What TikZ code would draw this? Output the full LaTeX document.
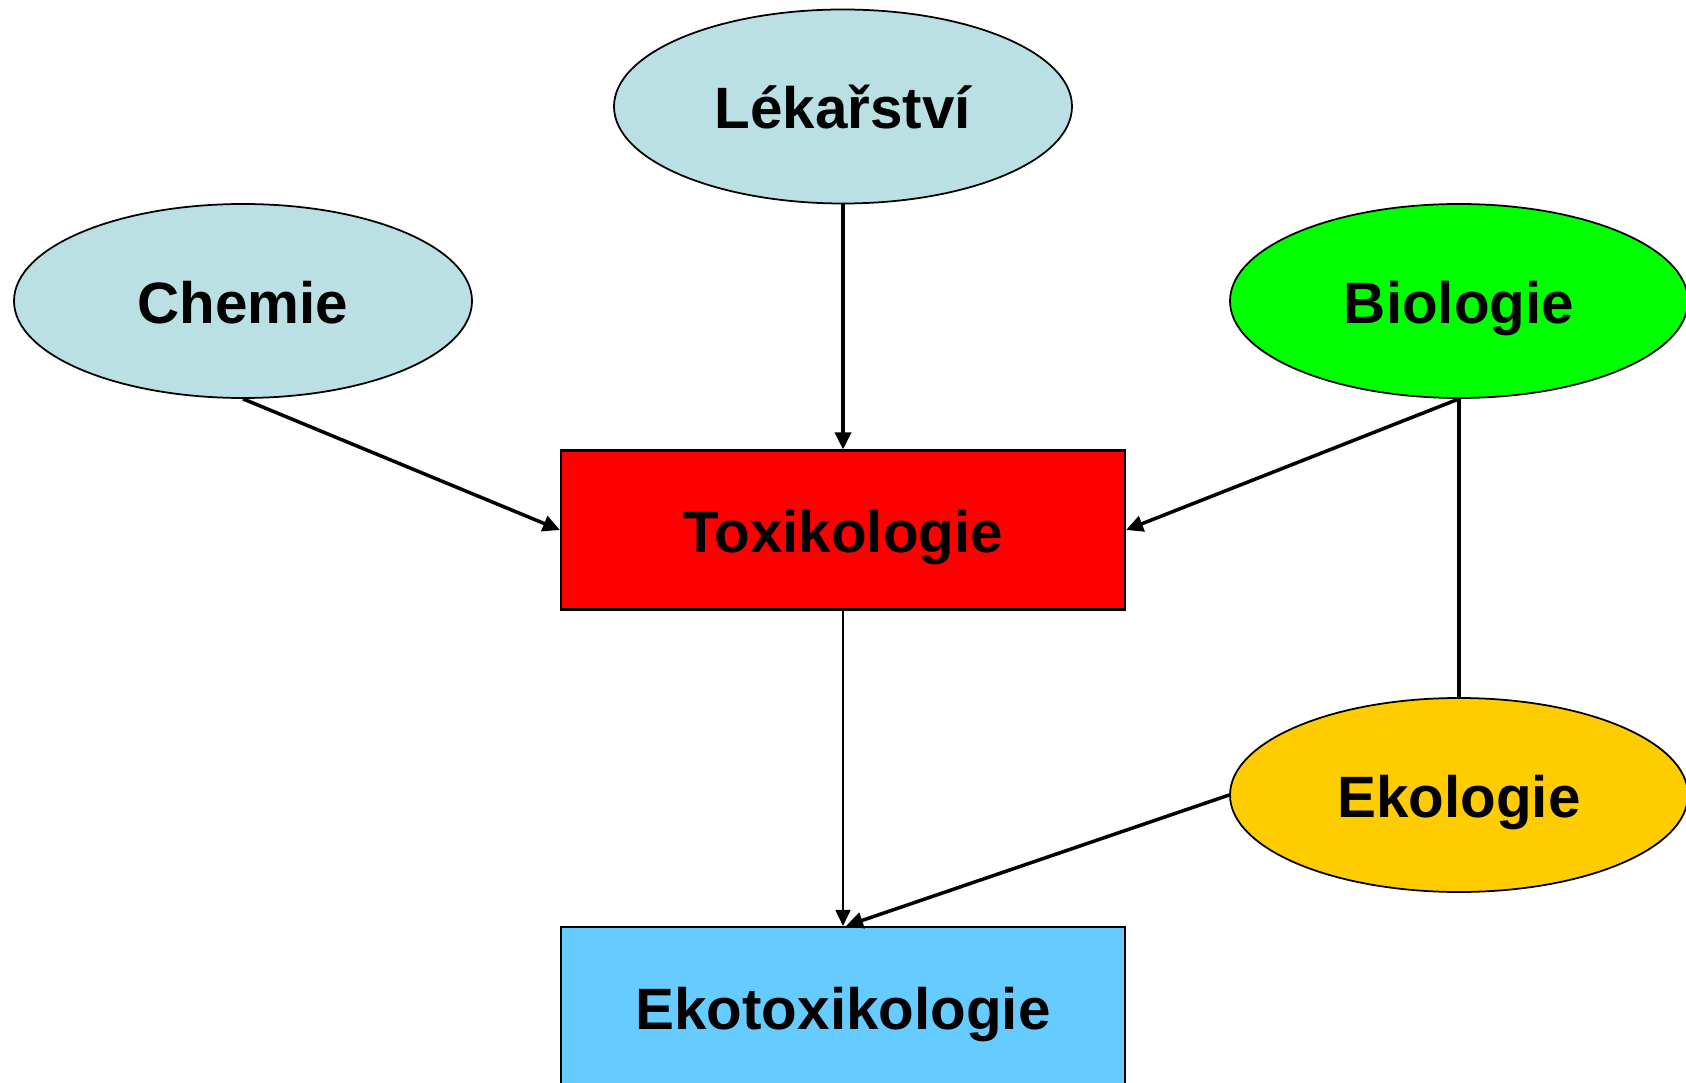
\documentclass[tikz,border=0pt]{standalone}
\usepackage{fontspec}
\setmainfont{Liberation Sans}
\usetikzlibrary{shapes.geometric,arrows.meta}
\definecolor{svetle}{RGB}{187,224,227}
\definecolor{zluta}{RGB}{255,204,0}
\definecolor{modra}{RGB}{102,204,255}
\begin{document}
\begin{tikzpicture}[
        x=1cm, y=1cm,
        font=\fontsize{16.6}{20}\selectfont\bfseries
    ]
    \tikzset{
        obor/.style = {ellipse, draw=black, line width=0.5pt, inner sep=0pt, text height=0.45cm, text depth=0pt, minimum width=4.58cm, minimum height=1.94cm},
        blok/.style = {rectangle, draw=black, line width=0.6pt, inner sep=0pt, text height=0.45cm, text depth=0pt, minimum width=5.64cm, minimum height=1.59cm},
        hrana/.style = {line width=1pt, -{Triangle[length=0.17cm, width=0.16cm]}},
        tenka/.style = {line width=0.5pt, -{Triangle[length=0.16cm, width=0.15cm]}},
        cara/.style = {line width=1pt, -},
    }
    \useasboundingbox (0,0) rectangle (16.86,-10.83);
    \node[obor, fill=svetle] at (8.43,-1.065) (lek) {Lékařství};
    \node[obor, fill=svetle] at (2.43,-3.01) (chem) {Chemie};
    \node[obor, fill=green] at (14.59,-3.01) (bio) {Biologie};
    \node[blok, fill=red] at (8.43,-5.30) (tox) {Toxikologie};
    \node[obor, fill=zluta] at (14.59,-7.95) (eko) {Ekologie};
    \node[blok, fill=modra] at (8.43,-10.065) (ekotox) {Ekotoxikologie};
    %
    \draw[hrana] (lek.south) -- (tox.north);
    \draw[hrana] (chem.south) -- (tox.west);
    \draw[hrana] (bio.south) -- (tox.east);
    \draw[cara] (bio.south) -- (eko.north);
    %
    \draw[tenka] (tox.south) -- (ekotox.north);
    \draw[hrana] (eko.west) -- ([xshift=0.03cm]ekotox.north);
\end{tikzpicture}
\end{document}
